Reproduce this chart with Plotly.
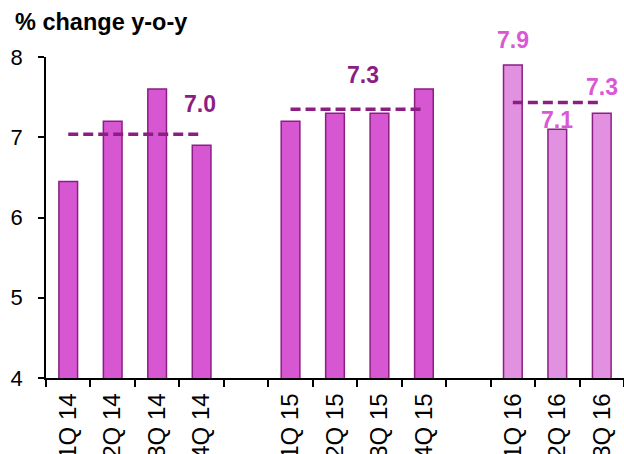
import plotly.graph_objects as go

# Quarterly real GDP growth, % change y-o-y
quarters = ["1Q 14", "2Q 14", "3Q 14", "4Q 14", " ",
            "1Q 15", "2Q 15", "3Q 15", "4Q 15", "  ",
            "1Q 16", "2Q 16", "3Q 16"]
growth = [6.45, 7.2, 7.6, 6.9, None,
          7.2, 7.3, 7.3, 7.6, None,
          7.9, 7.1, 7.3]
years = [2014, 2014, 2014, 2014, None,
         2015, 2015, 2015, 2015, None,
         2016, 2016, 2016]

y_ticks = [4, 5, 6, 7, 8]

DARK = "#8B1E83"
FILL = "#D757D2"
FILL_2016 = "#E291E0"
MAGENTA = "#DA58D6"
FONT = "Arial, 'Liberation Sans', sans-serif"

bar_colors = [FILL_2016 if y == 2016 else FILL for y in years]

fig = go.Figure()
fig.add_trace(go.Bar(
    x=quarters, y=growth, width=0.42,
    marker=dict(color=bar_colors, line=dict(color=DARK, width=1.5)),
    showlegend=False, hoverinfo="x+y",
))

# Annual averages drawn as dashed lines across each year's quarters
averages = {}
for yr in (2014, 2015, 2016):
    qs = [q for q, y in zip(quarters, years) if y == yr]
    vals = [v for v, y in zip(growth, years) if y == yr]
    avg = sum(vals) / len(vals)
    averages[yr] = (qs, avg)
    fig.add_trace(go.Scatter(
        x=[qs[0], qs[-1]], y=[avg, avg], mode="lines",
        line=dict(color=DARK, width=3.5, dash="10px,5px"),
        showlegend=False, hoverinfo="skip",
    ))

ann_font = dict(family=FONT, size=23, color=DARK)
# Average labels for 2014 and 2015
qs14, avg14 = averages[2014]
fig.add_annotation(x=qs14[-1], y=avg14, text=f"<b>{avg14:.1f}</b>",
                   showarrow=False, xshift=-2, yshift=30, font=ann_font)
qs15, avg15 = averages[2015]
fig.add_annotation(x=6.5, y=avg15, text=f"<b>{avg15:.1f}</b>",
                   showarrow=False, xshift=6, yshift=34, font=ann_font)

# Individual quarter labels for 2016
shifts_2016 = {"1Q 16": 25, "2Q 16": 9, "3Q 16": 26}
for q, v, y in zip(quarters, growth, years):
    if y == 2016:
        fig.add_annotation(x=q, y=v, text=f"<b>{v:.1f}</b>", showarrow=False,
                           yshift=shifts_2016[q],
                           font=dict(family=FONT, size=23, color=MAGENTA))

fig.update_layout(
    width=624, height=454,
    margin=dict(l=46, r=0, t=57, b=76),
    paper_bgcolor="white", plot_bgcolor="white",
    font=dict(family=FONT, color="black"),
    title=dict(text="<b>% change y-o-y</b>", xref="container", yref="container",
               x=15 / 624, xanchor="left", y=1 - 22 / 454, yanchor="middle",
               font=dict(family=FONT, size=23.5, color="black")),
    bargap=0.58,
)
fig.update_xaxes(
    type="category", categoryorder="array", categoryarray=quarters,
    range=[-0.5, len(quarters) - 0.5], automargin=False,
    showline=True, linecolor="black", linewidth=1.5,
    ticks="outside", ticklen=7, tickwidth=1.5, tickcolor="black",
    tickson="boundaries", tickangle=-90, showgrid=False, ticklabelstandoff=4,
    tickfont=dict(family=FONT, size=24, color="black"),
)
fig.update_yaxes(
    range=[4, 8], tickvals=y_ticks, automargin=False,
    showline=True, linecolor="black", linewidth=1.5,
    ticks="outside", ticklen=6, tickwidth=1.5, tickcolor="black",
    showgrid=False, zeroline=False, ticklabelstandoff=11,
    tickfont=dict(family=FONT, size=22, color="black"),
)

fig.write_html("out.html")
